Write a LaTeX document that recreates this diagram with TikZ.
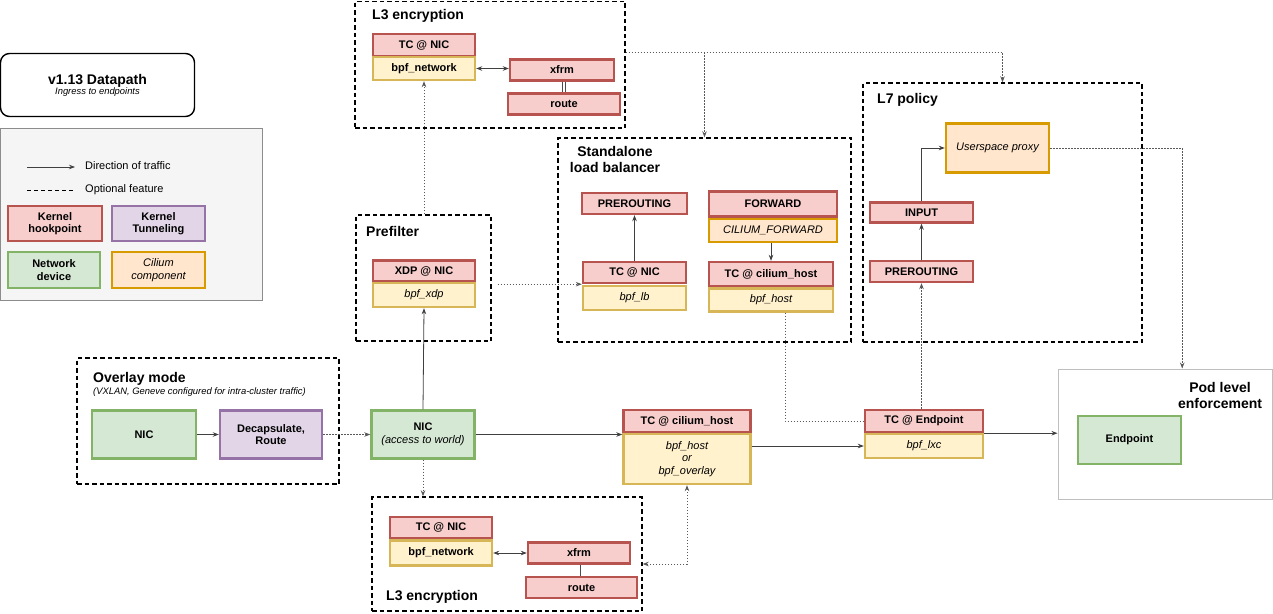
\documentclass[tikz,border=0pt]{standalone}
\usepackage{fontspec}
\setmainfont{Liberation Sans}
\usetikzlibrary{arrows.meta}

\definecolor{hookfill}{HTML}{F8CECC}
\definecolor{hookline}{HTML}{B85450}
\definecolor{bpffill}{HTML}{FFF2CC}
\definecolor{bpfline}{HTML}{D6B656}
\definecolor{cilfill}{HTML}{FFE6CC}
\definecolor{cilline}{HTML}{D79B00}
\definecolor{devfill}{HTML}{D5E8D4}
\definecolor{devline}{HTML}{82B366}
\definecolor{tunfill}{HTML}{E1D5E7}
\definecolor{tunline}{HTML}{9673A6}
\definecolor{legfill}{HTML}{F5F5F5}

\newcommand{\grouptitle}{\bfseries\fontsize{14}{16}\selectfont}
\newcommand{\smallital}{\itshape\fontsize{9.4}{11}\selectfont}

\begin{document}
\begin{tikzpicture}[x=1pt,y=-1pt,
  cell/.style={draw, line width=2.4pt, inner sep=1pt, align=center,
    font=\bfseries\fontsize{11}{12.5}\selectfont},
  hookbox/.style={cell, fill=hookfill, draw=hookline},
  bpfbox/.style={cell, fill=bpffill, draw=bpfline,
    font=\itshape\fontsize{11}{12.5}\selectfont},
  cilbox/.style={cell, fill=cilfill, draw=cilline,
    font=\itshape\fontsize{11}{12.5}\selectfont},
  devbox/.style={cell, fill=devfill, draw=devline},
  tunbox/.style={cell, fill=tunfill, draw=tunline},
  groupbox/.style={draw, line width=1.4pt, dash pattern=on 4.5pt off 3pt, inner sep=0pt},
  label/.style={anchor=west, inner sep=0pt, font=\grouptitle},
  flow/.style={draw=black!75, line width=0.8pt, -{Stealth[length=6pt,width=4.5pt]}},
  flowboth/.style={draw=black!75, line width=0.8pt, {Stealth[length=6pt,width=4.5pt]}-{Stealth[length=6pt,width=4.5pt]}},
  opt/.style={draw=black!65, line width=0.8pt, dash pattern=on 1.5pt off 1.5pt},
  link/.style={draw=black!70, double=white, double distance=2pt, line width=0.8pt},
]
\useasboundingbox (0,0) rectangle (1273,613);

% Title
\node[draw, line width=1.4pt, rounded corners=9pt, minimum width=194pt, minimum height=63pt, align=center]
  (title) at (97.5,85) {{\grouptitle v1.13 Datapath}\\[-2pt]{\smallital Ingress to endpoints}};

% Legend
\node[draw=black!45, line width=1pt, fill=legfill, minimum width=262pt, minimum height=172pt] (legend) at (131,214) {};
\coordinate (legA) at (27,167);
\coordinate (legB) at (75,167);
\coordinate (legC) at (27,190);
\coordinate (legD) at (75,190);
\draw[flow] (legA) -- (legB);
\draw[draw=black, line width=1pt, dash pattern=on 4pt off 3pt] (legC) -- (legD);
\node[anchor=west, inner sep=0pt, font=\fontsize{11}{13}\selectfont] (legflow) at (85,166) {Direction of traffic};
\node[anchor=west, inner sep=0pt, font=\fontsize{11}{13}\selectfont] (legopt) at (85,190) {Optional feature};
\node[hookbox, minimum width=94pt, minimum height=35pt] (leghook) at (55,223.5) {Kernel\\hookpoint};
\node[tunbox, minimum width=93pt, minimum height=35pt] (legtun) at (158.5,223.5) {Kernel\\Tunneling};
\node[devbox, minimum width=92pt, minimum height=36pt] (legdev) at (54,270) {Network\\device};
\node[cilbox, minimum width=93pt, minimum height=36pt] (legcil) at (158.5,270) {Cilium\\component};

% Group boxes
\node[groupbox, minimum width=270pt, minimum height=126.5pt] (l3top) at (490,64.75) {};
\node[groupbox, minimum width=135pt, minimum height=126pt] (prefilter) at (423.5,278) {};
\node[groupbox, minimum width=293pt, minimum height=204pt] (lb) at (704.5,240) {};
\node[groupbox, minimum width=279pt, minimum height=259pt] (l7) at (1002.5,212.5) {};
\node[groupbox, minimum width=262pt, minimum height=126pt] (overlay) at (208,421) {};
\node[groupbox, minimum width=270pt, minimum height=114pt] (l3bot) at (507,554) {};
\node[draw=black!25, line width=1pt, minimum width=214pt, minimum height=130pt] (pod) at (1165,434) {};

% Group titles
\node[label] (l3toptitle) at (372,16) {L3 encryption};
\node[label] (prefiltertitle) at (366,231) {Prefilter};
\node[inner sep=0pt, align=center, font=\grouptitle] (lbtitle) at (615,159) {Standalone\\load balancer};
\node[label] (l7title) at (877,100) {L7 policy};
\node[label] (overlaytitle) at (93,379) {Overlay mode};
\node[anchor=west, inner sep=0pt, font=\smallital] (overlaysub) at (93,392) {(VXLAN, Geneve configured for intra-cluster traffic)};
\node[label] (l3bottitle) at (386,597) {L3 encryption};
\node[inner sep=0pt, align=center, font=\grouptitle] (podtitle) at (1220,395) {Pod level\\enforcement};

% L3 encryption (top)
\node[hookbox, minimum width=102pt, minimum height=22pt] (tcnicA) at (424,45) {TC @ NIC};
\node[bpfbox, minimum width=102pt, minimum height=23pt, font=\bfseries\fontsize{11}{12.5}\selectfont] (bpfnetA) at (424,68.5) {bpf\_network};
\node[hookbox, minimum width=104pt, minimum height=21pt] (xfrmA) at (562,70) {xfrm};
\node[hookbox, minimum width=112pt, minimum height=21pt] (routeA) at (564,104) {route};

% Prefilter
\node[hookbox, minimum width=102pt, minimum height=21pt] (xdp) at (424,271) {XDP @ NIC};
\node[bpfbox, minimum width=102pt, minimum height=24pt] (bpfxdp) at (424,295) {bpf\_xdp};

% Standalone load balancer
\node[hookbox, minimum width=105pt, minimum height=21pt] (preA) at (634.5,203.5) {PREROUTING};
\node[hookbox, minimum width=103pt, minimum height=21pt] (tcnicB) at (634.5,272.5) {TC @ NIC};
\node[bpfbox, minimum width=103pt, minimum height=24pt] (bpflb) at (634.5,298) {bpf\_lb};
\node[hookbox, minimum width=128pt, minimum height=25pt] (fwd) at (773,204) {FORWARD};
\node[cilbox, minimum width=128pt, minimum height=23pt] (cfwd) at (773,230.5) {CILIUM\_FORWARD};
\node[hookbox, minimum width=124pt, minimum height=24pt] (tchostA) at (771,274) {TC @ cilium\_host};
\node[bpfbox, minimum width=124pt, minimum height=23pt] (bpfhostA) at (771,300) {bpf\_host};

% L7 policy
\node[cilbox, minimum width=103pt, minimum height=49pt] (proxy) at (997.5,148) {Userspace proxy};
\node[hookbox, minimum width=103pt, minimum height=20pt] (input) at (921.5,212.5) {INPUT};
\node[hookbox, minimum width=103pt, minimum height=21pt] (preB) at (921.5,271.5) {PREROUTING};

% Overlay mode
\node[devbox, minimum width=104pt, minimum height=48pt] (nicA) at (144,434.5) {NIC};
\node[tunbox, minimum width=102pt, minimum height=48pt] (decap) at (271,434.5) {Decapsulate,\\Route};

% Main path
\node[devbox, minimum width=103pt, minimum height=48pt] (nicW) at (423,434.5) {NIC\\{\mdseries\itshape (access to world)}};
\node[hookbox, minimum width=127pt, minimum height=22pt] (tchostB) at (687,421) {TC @ cilium\_host};
\node[bpfbox, minimum width=127pt, minimum height=50pt] (bpfhostB) at (687,459) {bpf\_host\\or\\bpf\_overlay};
\node[hookbox, minimum width=118pt, minimum height=22pt] (tcep) at (924,421) {TC @ Endpoint};
\node[bpfbox, minimum width=118pt, minimum height=24pt] (bpflxc) at (924,446) {bpf\_lxc};
\node[devbox, minimum width=103pt, minimum height=48pt] (endpoint) at (1129.5,440) {Endpoint};

% L3 encryption (bottom)
\node[hookbox, minimum width=102pt, minimum height=21pt] (tcnicC) at (441,527.5) {TC @ NIC};
\node[bpfbox, minimum width=102pt, minimum height=25pt, font=\bfseries\fontsize{11}{12.5}\selectfont] (bpfnetC) at (441,553) {bpf\_network};
\node[hookbox, minimum width=102pt, minimum height=21pt] (xfrmC) at (579,553) {xfrm};
\node[hookbox, minimum width=111pt, minimum height=21pt] (routeC) at (581.5,587.5) {route};

% Connectors
\coordinate (l3out) at (l3top.east |- 0,52);
\draw[flowboth] (bpfnetA.east) -- (bpfnetA.east -| xfrmA.west);
\draw[link] (xfrmA.south -| routeA.north) -- (routeA.north);
\draw[opt, -{Stealth[length=6pt,width=4.5pt]}] (l3out) -| (l7.north);
\draw[opt, -{Stealth[length=6pt,width=4.5pt]}] (l3out -| lb.north) -- (lb.north);
\draw[opt, -{Stealth[length=6pt,width=4.5pt]}] (prefilter.north -| bpfnetA.south) -- (bpfnetA.south);
\draw[opt, -{Stealth[length=6pt,width=4.5pt]}] ([xshift=6pt]prefilter.east |- tcnicB.south west) -- (tcnicB.south west);
\draw[flow] (tcnicB.north) -- (preA.south);
\draw[flow] (cfwd.south -| tchostA.north) -- (tchostA.north);
\draw[flow] (preB.north) -- (input.south);
\draw[flow] (input.north) |- (proxy.west);
\draw[opt, -{Stealth[length=6pt,width=4.5pt]}] (proxy.east) -| (pod.north -| endpoint.east);
\draw[flow] (nicA.east) -- (decap.west);
\draw[opt, -{Stealth[length=6pt,width=4.5pt]}] (decap.east) -- (nicW.west);
\draw[flow] (nicW.north) -- (bpfxdp.south);
\draw[flow] (nicW.east) -- (nicW.east -| tchostB.west);
\draw[opt, -{Stealth[length=6pt,width=4.5pt]}] (nicW.south) -- (nicW.south |- l3bot.north);
\draw[flow] (bpflxc.west -| bpfhostB.east) -- (bpflxc.west);
\draw[flow] (tcep.south east) -- (tcep.south east -| pod.west);
\draw[opt] ([xshift=14pt]bpfhostA.south) |- (tcep.west);
\draw[opt, -{Stealth[length=6pt,width=4.5pt]}] (tcep.north -| preB.south) -- (preB.south);
\draw[opt, {Stealth[length=6pt,width=4.5pt]}-{Stealth[length=6pt,width=4.5pt]}] (bpfhostB.south) |- ([yshift=-10pt]l3bot.east);
\draw[flowboth] (bpfnetC.east) -- (bpfnetC.east -| xfrmC.west);
\draw[link] (xfrmC.south -| routeC.north) -- (routeC.north);

\end{tikzpicture}
\end{document}
